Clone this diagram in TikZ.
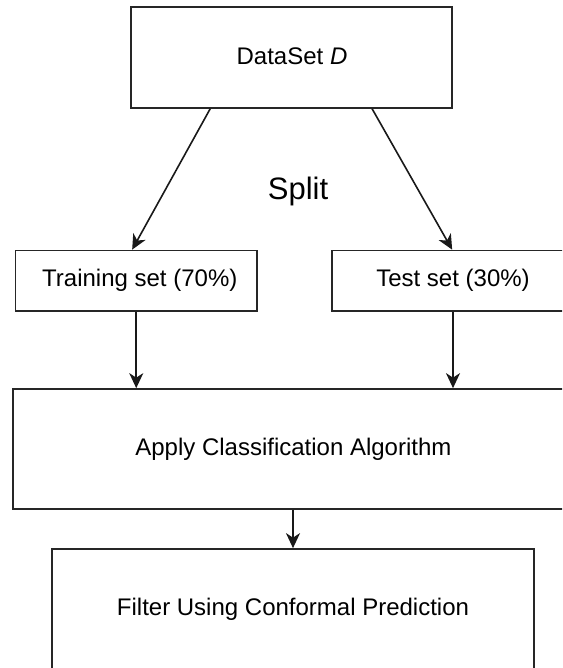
\documentclass[tikz,border=0pt]{standalone}
\usepackage{fontspec}
\setmainfont{Liberation Sans}
\usetikzlibrary{arrows.meta}
\begin{document}
\begin{tikzpicture}[x=1pt,y=-1pt,
  box/.style={draw=black!85,line width=1.7pt,fill=white,inner sep=0pt},
  lbl/.style={anchor=base,inner sep=0pt,font=\fontsize{24}{28}\selectfont,text=black},
  arr/.style={draw=black!90,line width=1.6pt,-{Stealth[length=15pt,width=14pt,inset=4.5pt]}}]
  \useasboundingbox (0,0) rectangle (562,668);
  \clip (0,0) rectangle (562,668);

  % boxes
  \node[box,minimum width=321pt,minimum height=101pt] (data) at (291.5,57.5) {};
  \node[box,minimum width=241.5pt,minimum height=60.5pt] (train) at (136.25,280.75) {};
  \node[box,minimum width=242pt,minimum height=60.5pt] (test) at (453,280.75) {};
  \node[box,minimum width=561.3pt,minimum height=120pt] (apply) at (293.35,449) {};
  \node[box,minimum width=482pt,minimum height=128pt] (filter) at (293,613) {};

  % labels
  \node[lbl] (datatxt) at (292,65) {DataSet \textit{D}};
  \node[lbl,font=\fontsize{31}{36}\selectfont] (split) at (298,200) {Split};
  \node[lbl] (traintxt) at (139.8,286) {Training set (70\%)};
  \node[lbl] (testtxt) at (453,286) {Test set (30\%)};
  \node[lbl] (applytxt) at (293.4,455) {Apply Classification Algorithm};
  \node[lbl] (filtertxt) at (293,615) {Filter Using Conformal Prediction};

  % connectors
  \draw[arr] ([xshift=80pt]data.south west) -- ([xshift=117.5pt]train.north west);
  \draw[arr] ([xshift=242pt]data.south west) -- ([xshift=121pt]test.north west);
  \draw[arr] (train.south) -- (train.south |- apply.north);
  \draw[arr] (test.south) -- (test.south |- apply.north);
  \draw[arr] (filter.north |- apply.south) -- (filter.north);
\end{tikzpicture}
\end{document}
